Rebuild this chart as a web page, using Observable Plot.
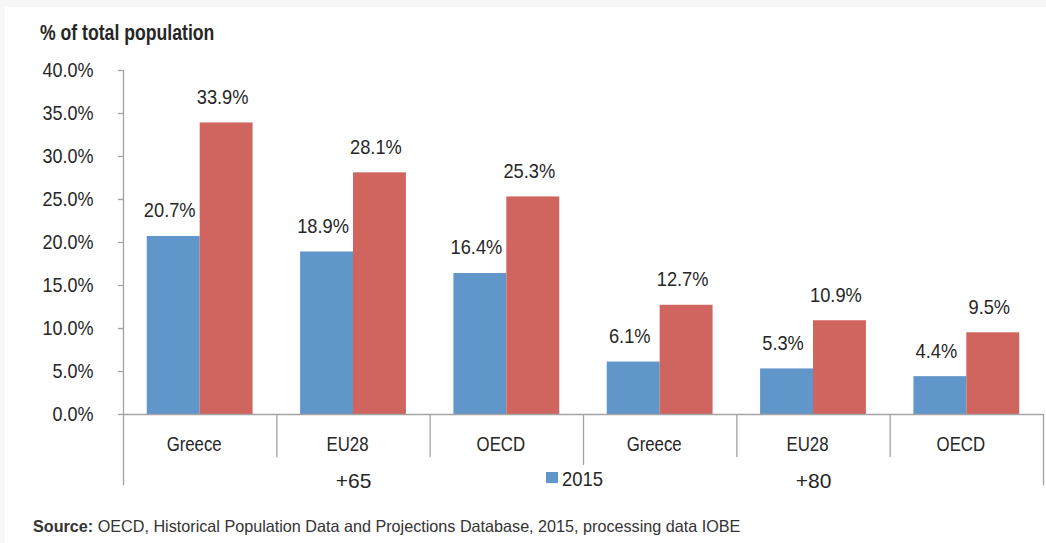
<!DOCTYPE html>
<html>
<head>
<meta charset="utf-8">
<script src="https://cdn.jsdelivr.net/npm/d3@7"></script>
<script src="https://cdn.jsdelivr.net/npm/@observablehq/plot@0.6"></script>
<style>
  html, body { margin: 0; padding: 0; background: #f7f7f7; }
  #wrap { position: relative; width: 1046px; height: 543px; overflow: hidden; }
  #panel { position: absolute; left: 5px; top: 7px; right: 0; bottom: 0; background: #fff; }
  #chart { position: absolute; left: 0; top: 0; }
  .cond { display: inline-block; transform-origin: 0 0; white-space: nowrap; }
  #title { position: absolute; left: 40px; top: 23px; font: bold 21.5px/21.5px "Liberation Sans", Arial, sans-serif; color: #262626; transform: scaleX(0.82); }
  #legend { position: absolute; left: 538px; top: 465px; width: 72px; height: 32px; background: #fff; }
  #legend .sw { position: absolute; left: 8px; top: 7px; width: 12px; height: 11px; }
  #legend .lb { position: absolute; left: 24px; top: 3px; font: 21px/21px "Liberation Sans", Arial, sans-serif; color: #262626; transform: scaleX(0.88); transform-origin: 0 0; }
  #source { position: absolute; left: 33px; top: 518px; font: 16.5px/16.5px "Liberation Sans", Arial, sans-serif; color: #333; transform: scaleX(0.98); }
</style>
</head>
<body>
<div id="wrap">
  <div id="panel"></div>
  <div id="chart"></div>
  <div id="title" class="cond">% of total population</div>
  <div id="legend"></div>
  <div id="source" class="cond"></div>
</div>
<script>
// ---- data ----
const ageGroups = ["+65", "+65", "+65", "+80", "+80", "+80"];
const regions = ["Greece", "EU28", "OECD", "Greece", "EU28", "OECD"];
const values2015 = [20.7, 18.9, 16.4, 6.1, 5.3, 4.4];
const values2060 = [33.9, 28.1, 25.3, 12.7, 10.9, 9.5];
const seriesNames = ["2015", "2060"];
const yTicks = [0, 5, 10, 15, 20, 25, 30, 35, 40];
const groupNames = ["+65", "+80"];
const sourceLabel = "Source:";
const sourceText = " OECD, Historical Population Data and Projections Database, 2015, processing data IOBE";

const blue = "#6096c9";
const red = "#d0645f";
const axisGray = "#a3a3a3";
const textColor = "#262626";

const rows = regions.map((r, i) => ({i, region: r, group: ageGroups[i], v2015: values2015[i], v2060: values2060[i]}));
const groups = groupNames.map(g => {
  const idx = rows.filter(d => d.group === g).map(d => d.i);
  return {name: g, start: d3.min(idx), end: d3.max(idx) + 1};
});
const boundaries = d3.range(0, rows.length + 1).map(b => ({
  b, long: groups.some(g => g.start === b || g.end === b)
}));

const barL = 0.155, barM = 0.5, barR = 0.845;

const chart = Plot.plot({
  width: 1046,
  height: 505,
  marginTop: 70,
  marginBottom: 91,
  marginLeft: 123,
  marginRight: 3,
  style: {fontFamily: "'Liberation Sans', Arial, sans-serif", fontSize: "20px", color: textColor, background: "transparent", overflow: "visible"},
  x: {type: "linear", domain: [0, rows.length], axis: null},
  y: {domain: [0, 40], axis: null},
  marks: [
    Plot.rectY(rows, {x1: d => d.i + barL, x2: d => d.i + barM, y1: 0, y2: "v2015", fill: blue}),
    Plot.rectY(rows, {x1: d => d.i + barM, x2: d => d.i + barR, y1: 0, y2: "v2060", fill: red}),
    Plot.axisY({ticks: yTicks, tickFormat: d => d.toFixed(1) + "%", tickSize: 5, tickPadding: 25,
      stroke: axisGray, strokeWidth: 1.3, fontSize: 20, fill: textColor, label: null}),
    Plot.ruleY([0], {x1: 0, x2: rows.length, stroke: axisGray, strokeWidth: 1.3}),
    Plot.ruleX(boundaries.filter(d => d.b === 0), {x: "b", y1: 0, y2: 40, stroke: axisGray, strokeWidth: 1.3}),
    Plot.ruleX(boundaries.filter(d => !d.long), {x: "b", y1: 0, y2: -5, stroke: axisGray, strokeWidth: 1.3}),
    Plot.ruleX(boundaries.filter(d => d.long), {x: "b", y1: 0, y2: -8.3, stroke: axisGray, strokeWidth: 1.3}),
    Plot.text(rows, {x: d => d.i + (barL + barM) / 2, y: "v2015", text: d => d.v2015.toFixed(1) + "%",
      lineAnchor: "bottom", dy: -19, dx: -4, fontSize: 21, fill: textColor}),
    Plot.text(rows, {x: d => d.i + (barM + barR) / 2, y: "v2060", text: d => d.v2060.toFixed(1) + "%",
      lineAnchor: "bottom", dy: -19, dx: -4, fontSize: 21, fill: textColor}),
    Plot.text(rows, {x: d => d.i + 0.5, y: () => 0, text: "region", lineAnchor: "bottom", dy: 36, dx: -6, fontSize: 21, fill: textColor}),
    Plot.text(groups, {x: d => (d.start + d.end) / 2, y: () => 0, text: "name", lineAnchor: "bottom", dy: 73, fontSize: 21, fill: textColor})
  ]
});
document.getElementById("chart").appendChild(chart);

// condense SVG text horizontally around each label's anchor (narrow typeface look)
const regionSet = new Set(regions), groupSet = new Set(groupNames);
chart.querySelectorAll("text").forEach(t => {
  const s0 = t.textContent;
  let s;
  if (t.closest('g[aria-label="y-axis tick label"]')) s = 0.9;
  else if (regionSet.has(s0)) s = 0.8;
  else if (groupSet.has(s0)) s = 1;
  else s = 0.87;
  if (s === 1) return;
  const tr = t.getAttribute("transform") || "";
  t.setAttribute("transform", `${tr} scale(${s},1)`);
});

const legend = document.getElementById("legend");
const sw = document.createElement("div"); sw.className = "sw"; sw.style.background = blue;
const lb = document.createElement("div"); lb.className = "lb"; lb.textContent = seriesNames[0];
legend.appendChild(sw); legend.appendChild(lb);

const src = document.getElementById("source");
const b = document.createElement("b"); b.textContent = sourceLabel;
src.appendChild(b); src.appendChild(document.createTextNode(sourceText));
</script>
</body>
</html>
